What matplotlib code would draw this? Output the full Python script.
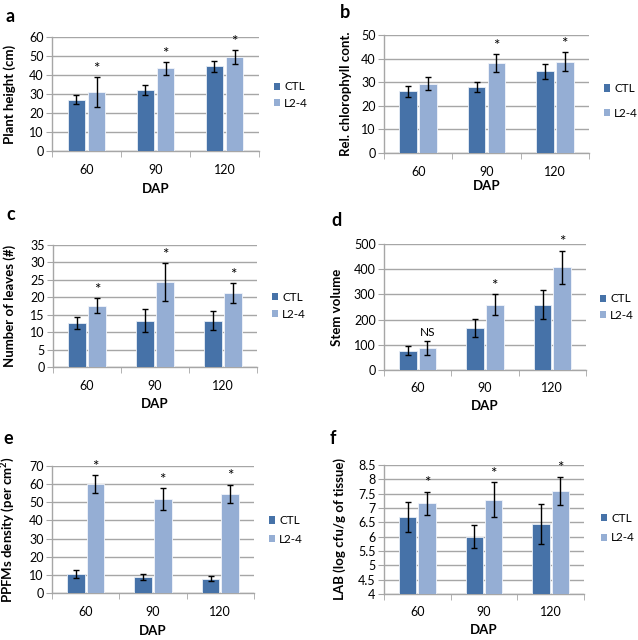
import matplotlib
matplotlib.use("Agg")
import matplotlib.pyplot as plt
import numpy as np
from matplotlib.patches import Patch

plt.rcParams['font.family'] = ['Lato', 'DejaVu Sans']
plt.rcParams['mathtext.fontset'] = 'custom'
plt.rcParams['mathtext.bf'] = 'Lato:bold'
plt.rcParams['mathtext.rm'] = 'Lato'

categories = ["60", "90", "120"]
series_names = ["CTL", "L2-4"]

a_ctl = [27.1, 32.0, 44.5]; a_ctl_err = [2.2, 2.6, 3.0]
a_l24 = [31.1, 43.5, 49.5]; a_l24_err = [7.7, 3.3, 3.6]
a_marks = ["*", "*", "*"]

b_ctl = [26.2, 27.9, 34.6]; b_ctl_err = [2.3, 2.1, 3.2]
b_l24 = [29.3, 38.0, 38.6]; b_l24_err = [2.8, 3.8, 4.0]
b_marks = ["", "*", "*"]

c_ctl = [12.6, 13.3, 13.3]; c_ctl_err = [1.8, 3.4, 2.7]
c_l24 = [17.6, 24.4, 21.2]; c_l24_err = [2.2, 5.4, 2.9]
c_marks = ["*", "*", "*"]

d_ctl = [77, 166, 259]; d_ctl_err = [17, 37, 58]
d_l24 = [89, 259, 408]; d_l24_err = [28, 41, 66]
d_marks = ["NS", "*", "*"]

e_ctl = [10.6, 8.8, 7.9]; e_ctl_err = [2.1, 1.7, 1.5]
e_l24 = [60.0, 51.7, 54.7]; e_l24_err = [5.1, 6.1, 5.1]
e_marks = ["*", "*", "*"]

f_ctl = [6.69, 5.99, 6.45]; f_ctl_err = [0.51, 0.40, 0.70]
f_l24 = [7.16, 7.29, 7.59]; f_l24_err = [0.41, 0.61, 0.50]
f_marks = ["*", "*", "*"]

C_CTL = "#4672A8"
C_L24 = "#95AED4"
GRID = "#A6A6A6"

W, H = 638, 640
fig = plt.figure(figsize=(W / 100, H / 100), dpi=100)


def px_axes(left, right, top, bottom):
    return fig.add_axes([left / W, (H - bottom) / H, (right - left) / W, (bottom - top) / H])


def panel(rect, ctl, ctl_err, l24, l24_err, marks, ylim, yticks, ytl, ylabel,
          letter, letter_xy, ylabel_x, xlabel_y, leg_xy, leg_space, mark_off=1):
    left, right, top, bottom = rect
    ax = px_axes(*rect)
    x = np.arange(len(categories))
    bw = 0.26
    gap = 0.015
    base = ylim[0]
    ax.bar(x - bw / 2 - gap, np.array(ctl) - base, bw, bottom=base, color=C_CTL,
           edgecolor="#E8EEF6", linewidth=0.6, zorder=3)
    ax.bar(x + bw / 2 + gap, np.array(l24) - base, bw, bottom=base, color=C_L24,
           edgecolor="#F2F5FA", linewidth=0.6, zorder=3)
    ax.errorbar(x - bw / 2 - gap, ctl, yerr=ctl_err, fmt="none", ecolor="black",
                elinewidth=1.0, capsize=2.5, capthick=1.0, zorder=4)
    ax.errorbar(x + bw / 2 + gap, l24, yerr=l24_err, fmt="none", ecolor="black",
                elinewidth=1.0, capsize=2.5, capthick=1.0, zorder=4)
    for i, m in enumerate(marks):
        if m:
            ax.annotate(m, (x[i] + bw / 2 + gap, l24[i] + l24_err[i]),
                        xytext=(0, mark_off if m == "*" else 2), textcoords="offset points",
                        ha="center", va="bottom", fontsize=8.5 if m == "NS" else 11,
                        zorder=5)
    ax.set_xlim(-0.5, 2.5)
    ax.set_ylim(*ylim)
    ax.set_yticks(yticks)
    ax.set_yticklabels(ytl)
    ax.set_xticks(x)
    ax.set_xticklabels(categories)
    ax.set_xticks([-0.5, 0.5, 1.5, 2.5], minor=True)
    ax.tick_params(axis="x", which="major", length=0, pad=9, labelsize=9)
    ax.tick_params(axis="x", which="minor", length=4, color=GRID, direction="out")
    ax.tick_params(axis="y", length=4, color=GRID, labelsize=9, pad=2)
    ax.yaxis.grid(True, color=GRID, linewidth=1.0, zorder=0)
    ax.set_axisbelow(True)
    for s in ["top", "right"]:
        ax.spines[s].set_visible(False)
    for s in ["left", "bottom"]:
        ax.spines[s].set_color(GRID)
        ax.spines[s].set_linewidth(1.0)
    ax.set_ylabel(ylabel, fontsize=9.5, fontweight="bold")
    ax.yaxis.set_label_coords((ylabel_x - left) / (right - left), 0.5)
    ax.set_xlabel("DAP", fontsize=9.5, fontweight="bold")
    ax.xaxis.set_label_coords(0.5, -(xlabel_y - bottom) / (bottom - top))
    fig.text(letter_xy[0] / W, 1 - letter_xy[1] / H, letter, fontsize=13,
             fontweight="bold", ha="center", va="center")
    handles = [Patch(facecolor=C_CTL, label=series_names[0]),
               Patch(facecolor=C_L24, label=series_names[1])]
    fig.legend(handles=handles, loc="center left",
               bbox_to_anchor=(leg_xy[0] / W, 1 - leg_xy[1] / H),
               frameon=False, fontsize=8.5, handlelength=0.55, handleheight=0.55,
               handletextpad=0.3, labelspacing=leg_space, borderpad=0,
               borderaxespad=0)
    return ax


panel((52, 259, 37, 151), a_ctl, a_ctl_err, a_l24, a_l24_err, a_marks,
      (0, 60), range(0, 61, 10), [str(v) for v in range(0, 61, 10)],
      "Plant height (cm)", "a", (10, 17), 16, 183, (274, 95), 0.45)

panel((384, 589, 35, 153), b_ctl, b_ctl_err, b_l24, b_l24_err, b_marks,
      (0, 50), range(0, 51, 10), [str(v) for v in range(0, 51, 10)],
      "Rel. chlorophyll cont.", "b", (345, 12), 352, 180, (604, 101), 1.15)

panel((53, 257, 245, 367), c_ctl, c_ctl_err, c_l24, c_l24_err, c_marks,
      (0, 35), range(0, 36, 5), [str(v) for v in range(0, 36, 5)],
      "Number of leaves (#)", "c", (11, 214), 16, 398, (272, 306), 0.5)

panel((384, 586, 244, 370), d_ctl, d_ctl_err, d_l24, d_l24_err, d_marks,
      (0, 500), range(0, 501, 100), [str(v) for v in range(0, 501, 100)],
      "Stem volume", "d", (337, 221), 343, 400, (600, 307), 0.45)

panel((52, 254, 466, 593), e_ctl, e_ctl_err, e_l24, e_l24_err, e_marks,
      (0, 70), range(0, 71, 10), [str(v) for v in range(0, 71, 10)],
      "PPFMs density (per cm$\\mathbf{^2}$)", "e", (8, 438), 17, 625, (269, 530), 0.65)

f_ticks = [4, 4.5, 5, 5.5, 6, 6.5, 7, 7.5, 8, 8.5]
panel((384, 584, 465, 594), f_ctl, f_ctl_err, f_l24, f_l24_err, f_marks,
      (4, 8.5), f_ticks, [f"{v:g}" for v in f_ticks],
      "LAB (log cfu/g of tissue)", "f", (333, 438), 346, 624, (601, 528), 0.75)

fig.savefig("out.png", dpi=100, facecolor="white")
